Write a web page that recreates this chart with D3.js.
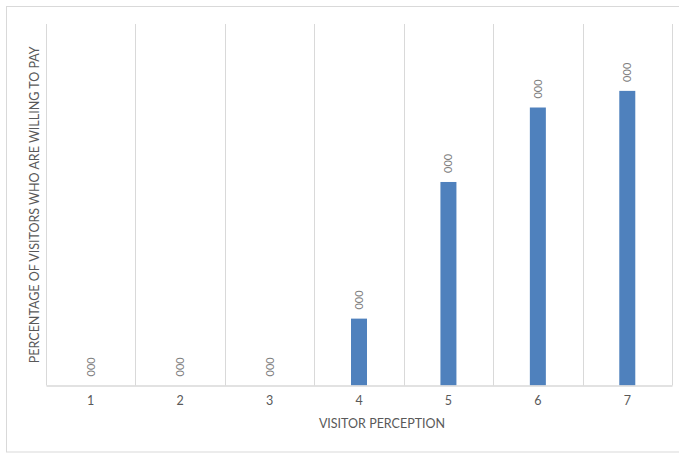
<!DOCTYPE html>
<html>
<head>
<meta charset="utf-8">
<script src="https://cdn.jsdelivr.net/npm/d3@7/dist/d3.min.js"></script>
<style>
  html, body { margin: 0; padding: 0; background: #fff; }
  svg { display: block; font-family: Lato, "Open Sans", sans-serif; }
</style>
</head>
<body>
<svg id="chart" width="679" height="453"></svg>
<script>
// Visitor perception score (1-7) and share of visitors willing to pay
const categories = ["1", "2", "3", "4", "5", "6", "7"];
const willingShare = [0, 0, 0, 0.185, 0.563, 0.769, 0.815];
const dataLabels = ["000", "000", "000", "000", "000", "000", "000"];
const xTitle = "VISITOR PERCEPTION";
const yTitle = "PERCENTAGE OF VISITORS WHO ARE WILLING TO PAY";

const svg = d3.select("#chart");
const W = 679, H = 453;
const plot = { left: 46, right: 672, top: 24, bottom: 385.5 };

// chart frame
svg.append("rect")
  .attr("x", 6.5).attr("y", 6.5)
  .attr("width", W + 4).attr("height", 445.5)
  .attr("fill", "#fff").attr("stroke", "#d9d9d9").attr("stroke-width", 1);

const x = d3.scaleBand().domain(categories).range([plot.left, plot.right]).padding(0);
const y = d3.scaleLinear().domain([0, 1]).range([plot.bottom, plot.top]);

// vertical gridlines at category boundaries
const bounds = categories.map(c => x(c)).concat([plot.right]);
svg.append("g").selectAll("line").data(bounds).join("line")
  .attr("x1", d => Math.round(d) + 0.5).attr("x2", d => Math.round(d) + 0.5)
  .attr("y1", plot.top).attr("y2", plot.bottom)
  .attr("stroke", "#d9d9d9").attr("stroke-width", 1);

// bars
const barW = 16;
svg.append("g").selectAll("rect").data(categories).join("rect")
  .attr("x", (c) => x(c) + x.bandwidth() / 2 - barW / 2)
  .attr("y", (c, i) => y(willingShare[i]))
  .attr("width", barW)
  .attr("height", (c, i) => plot.bottom - y(willingShare[i]))
  .attr("fill", "#4f81bd");

// category axis
const xAxis = svg.append("g")
  .attr("transform", `translate(0,${plot.bottom})`)
  .call(d3.axisBottom(x).tickSize(0).tickPadding(11));
xAxis.select(".domain").attr("stroke", "#d9d9d9").attr("stroke-width", 1.5);
xAxis.selectAll("text").attr("fill", "#595959").attr("font-size", 12.5)
  .attr("font-family", "Lato, 'Open Sans', sans-serif");

// rotated value labels above each bar
svg.append("g").selectAll("text").data(categories).join("text")
  .attr("transform", (c, i) => {
    const cx = x(c) + x.bandwidth() / 2;
    const ty = y(willingShare[i]) - 9;
    return `translate(${cx + 4},${ty}) rotate(-90)`;
  })
  .attr("text-anchor", "start")
  .attr("font-size", 11)
  .attr("fill", "#7f7f7f")
  .text((c, i) => dataLabels[i]);

// axis titles
svg.append("text")
  .attr("x", 382).attr("y", 428)
  .attr("text-anchor", "middle")
  .attr("font-size", 12.5).attr("fill", "#595959")
  .text(xTitle);

svg.append("text")
  .attr("transform", `translate(39,${(plot.top + plot.bottom) / 2}) rotate(-90)`)
  .attr("text-anchor", "middle")
  .attr("font-size", 12.5).attr("fill", "#595959")
  .text(yTitle);
</script>
</body>
</html>
